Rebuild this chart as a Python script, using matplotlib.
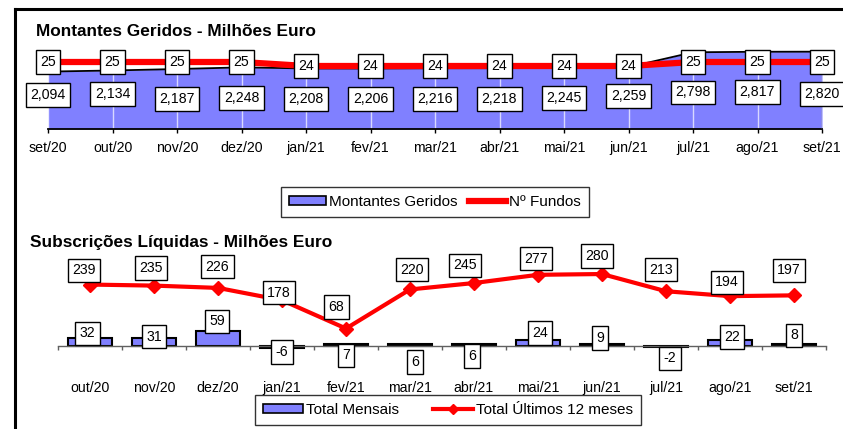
import matplotlib
matplotlib.use('Agg')
import matplotlib.pyplot as plt
from matplotlib.patches import Patch
from matplotlib.lines import Line2D

plt.rcParams['font.family'] = ['Liberation Sans', 'DejaVu Sans']

# ---------------- data ----------------
months_top = ['set/20', 'out/20', 'nov/20', 'dez/20', 'jan/21', 'fev/21', 'mar/21',
              'abr/21', 'mai/21', 'jun/21', 'jul/21', 'ago/21', 'set/21']
montantes = [2094, 2134, 2187, 2248, 2208, 2206, 2216, 2218, 2245, 2259, 2798, 2817, 2820]
montantes_lbl = ['2,094', '2,134', '2,187', '2,248', '2,208', '2,206', '2,216',
                 '2,218', '2,245', '2,259', '2,798', '2,817', '2,820']
fundos = [25, 25, 25, 25, 24, 24, 24, 24, 24, 24, 25, 25, 25]

months_bot = ['out/20', 'nov/20', 'dez/20', 'jan/21', 'fev/21', 'mar/21',
              'abr/21', 'mai/21', 'jun/21', 'jul/21', 'ago/21', 'set/21']
mensais = [32, 31, 59, -6, 7, 6, 6, 24, 9, -2, 22, 8]
ultimos12 = [239, 235, 226, 178, 68, 220, 245, 277, 280, 213, 194, 197]

# label offsets (pixels) - styling only
amt_dy = [34, 35, 30, 31, 30, 30, 30, 30, 31, 33, 36.5, 37, 35]
line_dx = [-6, -3, -0.5, -3, -9.5, 2, -9, -2, -5, -5, -3, -5]
line_dy = [14.3, 17.6, 21.2, 7.3, 21.5, 19.5, 17.7, 16, 18, 21.6, 14.1, 25.1]
bar_dx = [-2.7, 0, -1, 0, 0, 5, -2, 2, -2, 4, 2, 0]
bar_dy = [12.7, 9.3, 24.7, -6, -9.5, -16, -10, 13, 8, -12.3, 9, 10.5]

BLUE = '#8080FF'
RED = '#FF0000'
W, H = 843, 429
FS = 10.2
fig = plt.figure(figsize=(W / 100, H / 100), dpi=100)

def pos(x0, y0, x1, y1):
    return [x0 / W, 1 - y1 / H, (x1 - x0) / W, (y1 - y0) / H]

# outer frame lines (left + top)
fig.add_artist(Line2D([15 / W, 15 / W], [0, 1 - 8.5 / H], transform=fig.transFigure,
                      color='black', lw=2.2))
fig.add_artist(Line2D([15 / W, 1], [1 - 8.5 / H, 1 - 8.5 / H], transform=fig.transFigure,
                      color='black', lw=2.2))

boxprops = dict(boxstyle='square,pad=0.32', fc='white', ec='black', lw=1.0)

# ---------------- top chart ----------------
ax1 = fig.add_axes(pos(48, 44, 822, 129))
x = list(range(len(months_top)))
ax1.fill_between(x, 0, montantes, color=BLUE, lw=0, zorder=1)
for xi in x:
    ax1.axvline(xi, color='white', lw=1.0, alpha=0.7, zorder=2)
ax1.plot(x, montantes, color='black', lw=1.3, zorder=3)
ax1.plot([12, 12], [0, montantes[-1]], color='#808080', lw=1.0, zorder=3)
ax1.set_xlim(0, 12)
ax1.set_ylim(0, 3100)
for s in ['top', 'right', 'left']:
    ax1.spines[s].set_visible(False)
ax1.spines['bottom'].set_linewidth(1.3)
ax1.set_yticks([])
ax1.set_xticks(x)
ax1.set_xticklabels(months_top, fontsize=FS)
ax1.tick_params(axis='x', length=3, width=1, pad=6, color='black')
for xi, v, lbl, dy in zip(x, montantes, montantes_lbl, amt_dy):
    ax1.annotate(lbl, xy=(xi, 0), xytext=(0, dy), textcoords='offset pixels',
                 ha='center', va='center', fontsize=FS, bbox=boxprops, zorder=5,
                 annotation_clip=False)

ax2 = ax1.twinx()
ax2.plot(x, fundos, color=RED, lw=4.5, solid_capstyle='butt', zorder=4)
ax2.set_ylim(8.25, 29.5)
ax2.set_xlim(0, 12)
ax2.set_yticks([])
for s in ['top', 'right', 'left', 'bottom']:
    ax2.spines[s].set_visible(False)
for xi, v in zip(x, fundos):
    ax2.annotate(str(v), xy=(xi, v), xytext=(0, 0), textcoords='offset pixels',
                 ha='center', va='center', fontsize=FS, bbox=boxprops, zorder=6,
                 annotation_clip=False)

fig.text(36 / W, 1 - 32 / H, 'Montantes Geridos - Milhões Euro', fontsize=12.4,
         fontweight='bold', ha='left', va='center')

leg1 = fig.legend(handles=[Patch(fc=BLUE, ec='black', lw=1.2),
                           Line2D([], [], color=RED, lw=4.5)],
                  labels=['Montantes Geridos', 'Nº Fundos'],
                  loc='center', bbox_to_anchor=(435 / W, 1 - 202 / H), ncol=2,
                  fontsize=11, frameon=True, fancybox=False, edgecolor='black',
                  handlelength=2.4, handletextpad=0.2, columnspacing=0.8,
                  borderpad=0.55, borderaxespad=0, handleheight=0.6)
leg1.get_frame().set_linewidth(1.0)

# ---------------- bottom chart ----------------
ax3 = fig.add_axes(pos(58, 250, 826, 370))
xb = list(range(len(months_bot)))
ax3.bar(xb, mensais, width=0.68, color=BLUE, edgecolor='black', lw=1.5, zorder=2)
ax3.plot(xb, ultimos12, color=RED, lw=3, marker='D', markersize=7, zorder=3)
ax3.set_xlim(-0.5, 11.5)
ax3.set_ylim(-93.4, 373.5)
for s in ['top', 'right', 'left']:
    ax3.spines[s].set_visible(False)
ax3.spines['bottom'].set_position(('data', 0))
ax3.spines['bottom'].set_color('#606060')
ax3.spines['bottom'].set_linewidth(1.0)
ax3.set_yticks([])
ax3.set_xticks(xb)
ax3.set_xticklabels(months_bot, fontsize=FS)
ax3.set_xticks([i - 0.5 for i in range(13)], minor=True)
ax3.tick_params(axis='x', which='major', length=0, pad=25.5)
ax3.tick_params(axis='x', which='minor', length=3, width=1, color='#606060')

for xi, v, dx, dy in zip(xb, ultimos12, line_dx, line_dy):
    ax3.annotate(str(v), xy=(xi, v), xytext=(dx, dy), textcoords='offset pixels',
                 ha='center', va='center', fontsize=FS, bbox=boxprops, zorder=5,
                 annotation_clip=False)
for xi, v, dx, dy in zip(xb, mensais, bar_dx, bar_dy):
    ax3.annotate(str(v), xy=(xi, 0), xytext=(dx, dy), textcoords='offset pixels',
                 ha='center', va='center', fontsize=FS, bbox=boxprops, zorder=5,
                 annotation_clip=False)

fig.text(30 / W, 1 - 242 / H, 'Subscrições Líquidas - Milhões Euro', fontsize=12.4,
         fontweight='bold', ha='left', va='center')

leg2 = fig.legend(handles=[Patch(fc=BLUE, ec='black', lw=1.2),
                           Line2D([], [], color=RED, lw=3, marker='D', markersize=5)],
                  labels=['Total Mensais', 'Total Últimos 12 meses'],
                  loc='center', bbox_to_anchor=(448 / W, 1 - 410 / H), ncol=2,
                  fontsize=11, frameon=True, fancybox=False, edgecolor='black',
                  handlelength=2.6, handletextpad=0.2, columnspacing=2.2,
                  borderpad=0.55, borderaxespad=0, handleheight=0.6)
leg2.get_frame().set_linewidth(1.0)

fig.savefig('out.png', dpi=100, facecolor='white')
